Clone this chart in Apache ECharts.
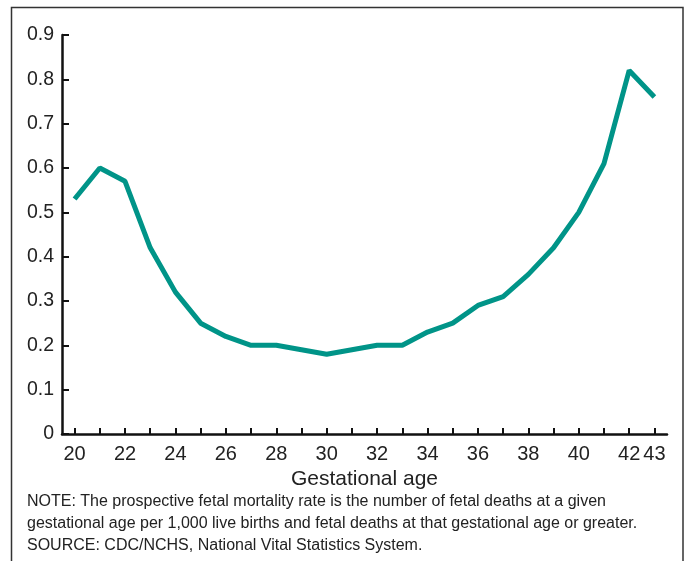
<!DOCTYPE html>
<html><head><meta charset="utf-8">
<script src="https://cdn.jsdelivr.net/npm/echarts@6/dist/echarts.min.js"></script>
<style>html,body{margin:0;padding:0;background:#fff;}#c{width:686px;height:561px;}</style>
</head><body><div id="c"></div>
<script>
const ages = ['20','21','22','23','24','25','26','27','28','29','30','31','32','33','34','35','36','37','38','39','40','41','42','43'];
const rates = [0.53,0.60,0.57,0.42,0.32,0.25,0.22,0.20,0.20,0.19,0.18,0.19,0.20,0.20,0.23,0.25,0.29,0.31,0.36,0.42,0.50,0.61,0.82,0.76];
const shownXLabels = ['20','22','24','26','28','30','32','34','36','38','40','42','43'];
const noteLines = [
  'NOTE: The prospective fetal mortality rate is the number of fetal deaths at a given',
  'gestational age per 1,000 live births and fetal deaths at that gestational age or greater.',
  'SOURCE: CDC/NCHS, National Vital Statistics System.'
];
const chart = echarts.init(document.getElementById('c'));
const font = 'Liberation Sans, Arial, Helvetica, sans-serif';
chart.setOption({
  animation:false,
  backgroundColor:'#fff',
  grid:{left:62,right:19,top:35,bottom:127},
  xAxis:{type:'category',data:ages,boundaryGap:true,
    name:'Gestational age',nameLocation:'middle',nameGap:30,
    nameTextStyle:{fontFamily:font,fontSize:21,color:'#222'},
    axisLine:{lineStyle:{color:'#111',width:2.5}},
    axisTick:{show:true,inside:true,alignWithLabel:true,interval:0,length:6,lineStyle:{color:'#111',width:2}},
    axisLabel:{interval:0,margin:10,fontFamily:font,fontSize:20,color:'#222',
      formatter:v=>shownXLabels.includes(v)?v:''},
    splitLine:{show:false}},
  yAxis:{type:'value',min:0,max:0.9,interval:0.1,
    axisLine:{show:true,lineStyle:{color:'#111',width:2.5}},
    axisTick:{show:true,inside:true,length:7,lineStyle:{color:'#111',width:2}},
    axisLabel:{margin:8,fontFamily:font,fontSize:19.5,color:'#222',formatter:v=>v===0?'0':v.toFixed(1)},
    splitLine:{show:false}},
  series:[{type:'line',data:rates,symbol:'none',lineStyle:{color:'#009488',width:5},itemStyle:{color:'#009488'}}],
  graphic:[
    {type:'rect',shape:{x:11.5,y:7.5,width:671.5,height:600},style:{fill:'none',stroke:'#333',lineWidth:1.5},silent:true},
    {type:'text',left:27,top:491,style:{text:noteLines.join('\n'),fontFamily:font,fontSize:16,lineHeight:22,fill:'#222'}}
  ]
});
</script></body></html>
